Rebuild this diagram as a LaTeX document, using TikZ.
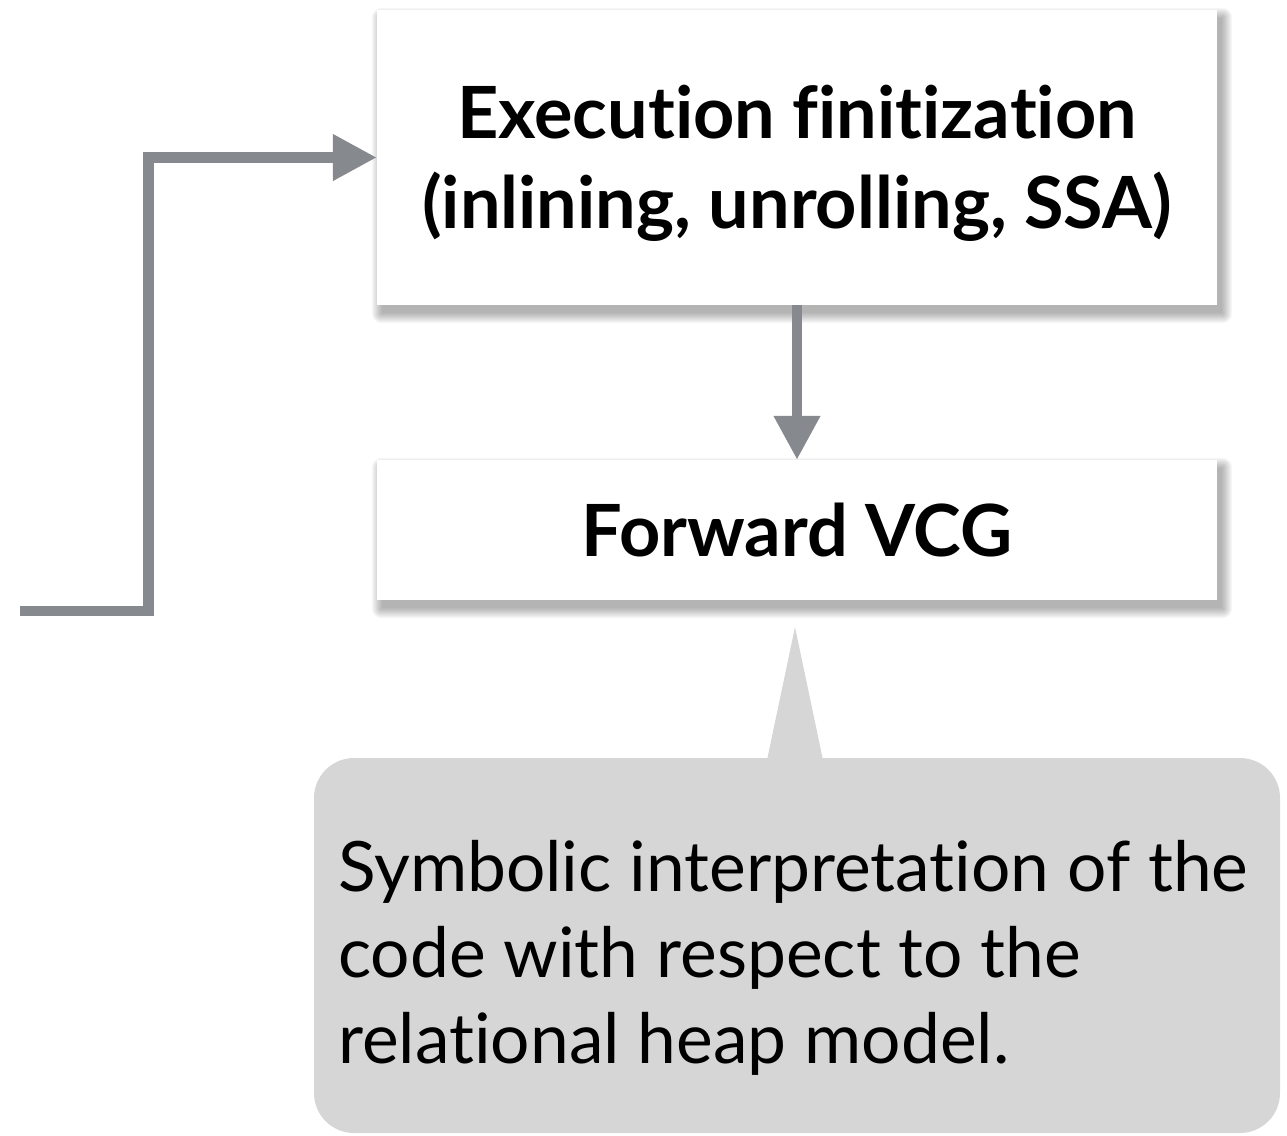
\documentclass[tikz,border=0pt]{standalone}
\usepackage{fontspec}
\setmainfont[Ligatures=NoCommon]{Lato}
\usetikzlibrary{arrows.meta,calc}
\pgfdeclarelayer{background}
\pgfsetlayers{background,main}
\definecolor{arrowgray}{HTML}{86898D}
\definecolor{calloutgray}{HTML}{D6D6D6}
\tikzset{
  stepbox/.style={fill=white, minimum width=840pt, align=center, inner sep=0pt,
    font=\fontsize{72}{88}\selectfont\bfseries},
  flow/.style={draw=arrowgray, line width=10.5pt, -{Triangle[length=44pt,width=44pt]}},
}
\newcommand{\boxshadow}[1]{%
  \foreach \e in {0,1,...,10}{%
    \fill[black,opacity=0.032,rounded corners=\e pt]
      ($(#1.south west)+(5pt-\e pt,-8pt-\e pt)$) rectangle ($(#1.north east)+(5pt+\e pt,-8pt+\e pt)$);
  }%
}
\begin{document}
\begin{tikzpicture}[x=1pt,y=-1pt]
\useasboundingbox (0,0) rectangle (1287,1135);
\node[stepbox, minimum height=295pt] (fin) at (797,157.5)
  {\raisebox{-8pt}[\height][\depth]{\renewcommand{\arraystretch}{1.02}\begin{tabular}{@{}c@{}}Execution finitization\\(inlining, unrolling, SSA)\end{tabular}}};
\node[stepbox, minimum height=140pt] (vcg) at (797,530) {Forward VCG};
\begin{pgfonlayer}{background}
\boxshadow{fin}
\boxshadow{vcg}
\end{pgfonlayer}
% callout
\fill[calloutgray] (767,760) -- (795,627) -- (823,760) -- cycle;
\fill[calloutgray, rounded corners=40pt] (314,758) rectangle (1280,1133);
\node[anchor=base west, align=left, inner sep=0pt, font=\fontsize{69.5}{86}\selectfont] (note) at (338,1063)
  {Symbolic interpretation of the\\code with respect to the\\relational heap model.};
% connectors
\coordinate (src) at (20,611);
\draw[flow] (src) -- (148.5,611) |- (fin.west);
\draw[flow] (fin.south) -- (vcg.north);
\end{tikzpicture}
\end{document}
